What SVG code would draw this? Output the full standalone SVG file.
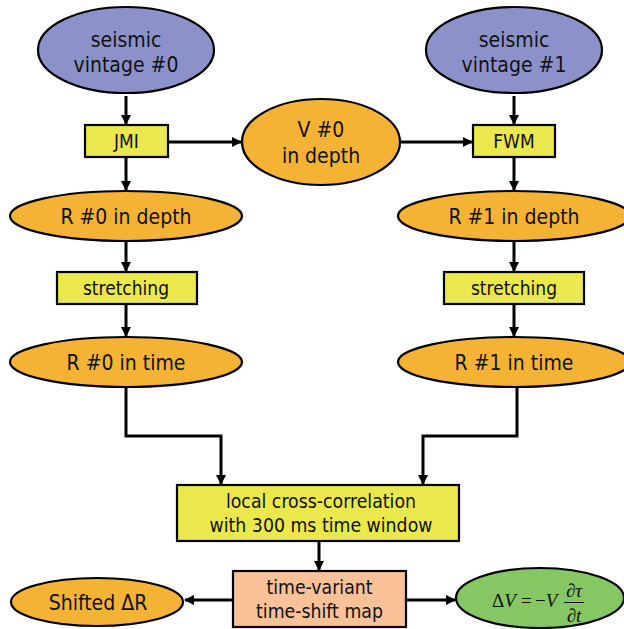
<svg xmlns="http://www.w3.org/2000/svg" width="624" height="629" viewBox="0 0 624 629">
  <style>
    .node { stroke: #000; stroke-width: 2.2; }
    .input { fill: #8C91C9; }
    .data { fill: #F4B335; }
    .proc { fill: #EAE84C; }
    .map { fill: #F9C197; }
    .result { fill: #86C763; }
    .lbl { font-family: "DejaVu Sans Condensed", "DejaVu Sans", sans-serif; font-stretch: condensed; fill: #111; text-anchor: middle; }
    .big { font-size: 21px; }
    .mid { font-size: 19.3px; }
    .small { font-size: 19px; }
    .eq { font-family: "Liberation Serif", serif; font-size: 19px; fill: #111; }
    .it { font-style: italic; }
    .wire { fill: none; stroke: #000; stroke-width: 3; marker-end: url(#head); }
  </style>
  <defs>
    <marker id="head" viewBox="0 0 10 10" refX="9" refY="5" markerWidth="3.4" markerHeight="3.4" orient="auto" markerUnits="strokeWidth">
      <path d="M0,0 L10,5 L0,10 Z" fill="#000"/>
    </marker>
  </defs>
  <rect width="624" height="629" fill="#fff"/>

  <g id="connectors">
    <path class="wire" d="M126,96 V124"/>
    <path class="wire" d="M514,96 V124"/>
    <path class="wire" d="M168,142 H241"/>
    <path class="wire" d="M400,142 H472"/>
    <path class="wire" d="M126,157 V190"/>
    <path class="wire" d="M514,157 V190"/>
    <path class="wire" d="M126,242 V271"/>
    <path class="wire" d="M514,242 V271"/>
    <path class="wire" d="M126,304 V336"/>
    <path class="wire" d="M514,304 V336"/>
    <path class="wire" d="M126,388 V436 H221 V484"/>
    <path class="wire" d="M517,388 V436 H423 V484"/>
    <path class="wire" d="M319,541 V570"/>
    <path class="wire" d="M233,600 H185"/>
    <path class="wire" d="M406,600 H455"/>
  </g>

  <g id="vintage0">
    <ellipse class="node input" cx="126" cy="50" rx="88" ry="43"/>
    <text class="lbl big" x="126" y="47">seismic</text>
    <text class="lbl big" x="126" y="72">vintage #0</text>
  </g>
  <g id="vintage1">
    <ellipse class="node input" cx="514" cy="50" rx="88" ry="43"/>
    <text class="lbl big" x="514" y="47">seismic</text>
    <text class="lbl big" x="514" y="72">vintage #1</text>
  </g>
  <g id="jmi">
    <rect class="node proc" x="85" y="125" width="83" height="32"/>
    <text class="lbl small" x="126.5" y="148">JMI</text>
  </g>
  <g id="fwm">
    <rect class="node proc" x="473" y="125" width="82" height="32"/>
    <text class="lbl small" x="514" y="148">FWM</text>
  </g>
  <g id="velocity">
    <ellipse class="node data" cx="321" cy="142" rx="79" ry="43"/>
    <text class="lbl big" x="321" y="137">V #0</text>
    <text class="lbl big" x="321" y="163">in depth</text>
  </g>
  <g id="r0depth">
    <ellipse class="node data" cx="126" cy="216" rx="116" ry="25"/>
    <text class="lbl big" x="126" y="224">R #0 in depth</text>
  </g>
  <g id="r1depth">
    <ellipse class="node data" cx="514" cy="216" rx="116" ry="25"/>
    <text class="lbl big" x="514" y="224">R #1 in depth</text>
  </g>
  <g id="stretch0">
    <rect class="node proc" x="57" y="272" width="140" height="32"/>
    <text class="lbl small" x="126" y="295">stretching</text>
  </g>
  <g id="stretch1">
    <rect class="node proc" x="444" y="272" width="140" height="32"/>
    <text class="lbl small" x="514" y="295">stretching</text>
  </g>
  <g id="r0time">
    <ellipse class="node data" cx="126" cy="362" rx="116" ry="25"/>
    <text class="lbl big" x="126" y="370">R #0 in time</text>
  </g>
  <g id="r1time">
    <ellipse class="node data" cx="514" cy="362" rx="116" ry="25"/>
    <text class="lbl big" x="514" y="370">R #1 in time</text>
  </g>
  <g id="xcorr">
    <rect class="node proc" x="177" y="485" width="282" height="56"/>
    <text class="lbl mid" x="321" y="508">local cross-correlation</text>
    <text class="lbl mid" x="321" y="532">with 300 ms time window</text>
  </g>
  <g id="shiftmap">
    <rect class="node map" x="233" y="571" width="173" height="56"/>
    <text class="lbl mid" x="319.5" y="594">time-variant</text>
    <text class="lbl mid" x="319.5" y="618">time-shift map</text>
  </g>
  <g id="shifted">
    <ellipse class="node data" cx="97" cy="602" rx="86" ry="24"/>
    <text class="lbl big" x="98" y="610">Shifted ΔR</text>
  </g>
  <g id="dv">
    <ellipse class="node result" cx="540" cy="598" rx="84" ry="30"/>
    <!-- ΔV = −V ∂τ/∂t, each piece placed by hand -->
    <text class="eq" x="492" y="607">Δ<tspan class="it">V</tspan></text>
    <text class="eq" x="521" y="607">=</text>
    <text class="eq" x="535" y="607">−<tspan class="it">V</tspan></text>
    <text class="eq" x="574" y="597" text-anchor="middle">∂<tspan class="it">τ</tspan></text>
    <line x1="564" y1="602.5" x2="584" y2="602.5" stroke="#111" stroke-width="1"/>
    <text class="eq" x="574" y="622" text-anchor="middle">∂<tspan class="it">t</tspan></text>
  </g>
</svg>
